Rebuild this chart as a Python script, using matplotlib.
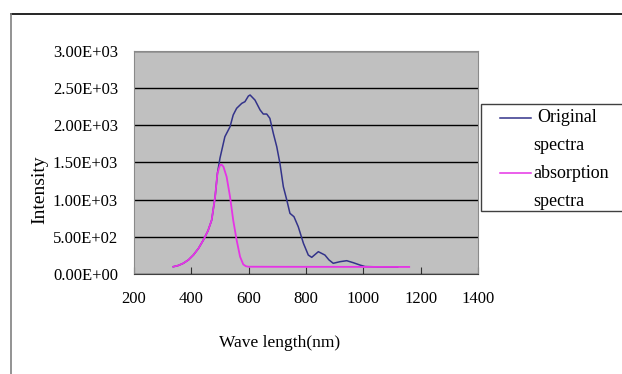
import matplotlib.pyplot as plt
from matplotlib.lines import Line2D
from matplotlib.patches import Rectangle

# spectra (nm, intensity)
orig_nm = [337, 355, 372, 390, 407, 425, 442, 458, 471, 483, 491, 500, 517, 535, 546, 558, 576, 587,
           599, 605, 622, 640, 651, 663, 674, 686, 698, 709, 721, 733, 744, 758,
           773, 791, 808, 820, 843, 866, 880, 895, 919, 942, 965, 988, 1006, 1050, 1120]
orig_int = [98, 115, 144, 190, 255, 345, 457, 580, 726, 1040, 1354, 1560, 1847, 1981, 2139, 2229, 2296, 2318,
            2394, 2408, 2340, 2206, 2152, 2152, 2094, 1892, 1712, 1489, 1174, 995, 816, 771,
            636, 413, 255, 224, 300, 255, 190, 144, 166, 179, 152, 121, 100, 96, 95]

abs_nm = [337, 355, 372, 390, 407, 425, 442, 458, 471, 483, 491, 500, 506, 512, 523, 535,
          546, 558, 570, 581, 590, 599, 700, 900, 1160]
abs_int = [98, 115, 144, 190, 255, 345, 457, 580, 726, 1040, 1354, 1466, 1470, 1443, 1309, 1040,
           726, 457, 233, 130, 105, 98, 97, 96, 95]

labels = ['Original\nspectra', 'absorption\nspectra']
colors = ['#33338a', '#e633e6']

xticks = [200, 400, 600, 800, 1000, 1200, 1400]
yticks = [0, 500, 1000, 1500, 2000, 2500, 3000]

W, H = 622, 374
plt.rcParams['font.family'] = ['Liberation Serif', 'DejaVu Serif']

fig = plt.figure(figsize=(W / 100, H / 100), dpi=100)
ax = fig.add_axes([134 / W, 100 / H, 344 / W, 223 / H])
ax.set_facecolor('#c0c0c0')

ax.plot(orig_nm, orig_int, color=colors[0], lw=1.1)
ax.plot(abs_nm, abs_int, color=colors[1], lw=1.3)

ax.set_xlim(200, 1400)
ax.set_ylim(0, 3000)
ax.set_xticks(xticks)
ax.set_yticks(yticks)
ax.set_yticklabels(['{:.2E}'.format(v) for v in yticks])
ax.tick_params(axis='x', direction='in', length=5, color='#303030', pad=12, labelsize=12)
ax.tick_params(axis='y', length=0, pad=11.5, labelsize=12)
ax.set_axisbelow(True)
ax.yaxis.grid(True, color='black', lw=1)

for s in ['top', 'right', 'left']:
    ax.spines[s].set_color('#8a8a8a')
ax.spines['bottom'].set_color('#404040')

fig.text(40 / W, 1 - 190 / H, 'Intensity', rotation=90, ha='center', va='center', fontsize=14)
fig.text(280 / W, 1 - 343 / H, 'Wave length(nm)', ha='center', va='center', fontsize=12.5)

# outer chart frame
fig.add_artist(Line2D([11 / W, 1], [1 - 14 / H] * 2, color='black', lw=1.2))
fig.add_artist(Line2D([11 / W] * 2, [0, 1 - 14 / H], color='#808080', lw=1.2))

# legend box
fig.add_artist(Rectangle((481 / W, 1 - 211 / H), 200 / W, 107 / H, transform=fig.transFigure,
                         facecolor='white', edgecolor='#404040', lw=1))
for i, (lab, c) in enumerate(zip(labels, colors)):
    y0 = 118 + i * 55
    fig.add_artist(Line2D([500 / W, 531 / W], [1 - y0 / H] * 2, color=c, lw=1.1))
    first, second = lab.split('\n')
    fig.text((537 if i == 0 else 533) / W, 1 - y0 / H, first, va='center', fontsize=13)
    fig.text(533 / W, 1 - (y0 + 28) / H, second, va='center', fontsize=13)

fig.savefig('out.png', dpi=100)
